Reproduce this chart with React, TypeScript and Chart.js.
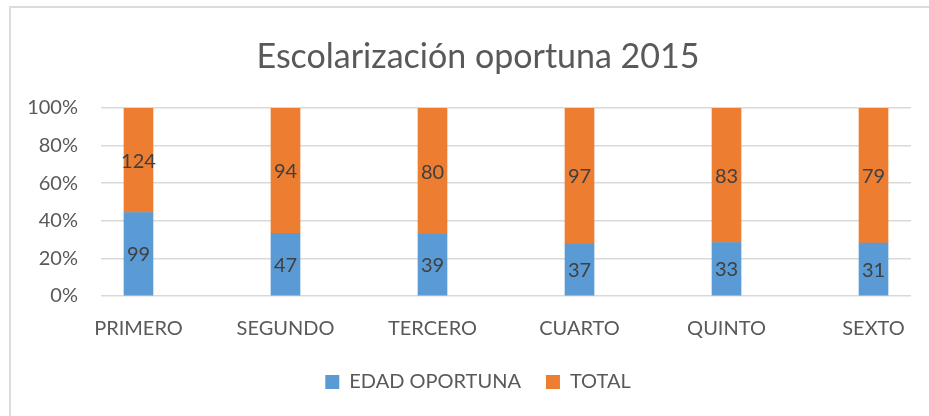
import React, { useEffect, useRef } from "react";
import { Chart, registerables } from "chart.js";

Chart.register(...registerables);

const CATEGORIES = ["PRIMERO", "SEGUNDO", "TERCERO", "CUARTO", "QUINTO", "SEXTO"];
const EDAD_OPORTUNA = [99, 47, 39, 37, 33, 31];
const TOTAL = [124, 94, 80, 97, 83, 79];
const Y_TICKS = [0, 20, 40, 60, 80, 100];
const TITLE = "Escolarización oportuna 2015";
const SERIES_NAMES = ["EDAD OPORTUNA", "TOTAL"];

const FONT = "Lato, 'Open Sans', sans-serif";
const TEXT = "#595959";
const PAD_LEFT = 45;
const PLOT_LEFT = 101;

export default function App() {
  const ref = useRef<HTMLCanvasElement>(null);

  useEffect(() => {
    if (!ref.current) return;
    const sums = CATEGORIES.map((_, i) => EDAD_OPORTUNA[i] + TOTAL[i]);
    const pct = (arr: number[]) => arr.map((v, i) => ({ x: i, y: (v / sums[i]) * 100 }));

    const segLabels = {
      id: "segLabels",
      afterDatasetsDraw(chart: any) {
        const ctx = chart.ctx;
        ctx.save();
        ctx.font = `20px ${FONT}`;
        ctx.fillStyle = "#404040";
        ctx.textAlign = "center";
        ctx.textBaseline = "middle";
        chart.data.datasets.forEach((ds: any, di: number) => {
          const meta = chart.getDatasetMeta(di);
          meta.data.forEach((bar: any, i: number) => {
            const p = bar.getProps(["x", "y", "base"], true);
            ctx.fillText(String(ds.rawValues[i]), p.x, (p.y + p.base) / 2 + 1);
          });
        });
        ctx.restore();
      },
    };

    const chart = new Chart(ref.current, {
      type: "bar",
      data: {
        datasets: [
          {
            label: SERIES_NAMES[0],
            data: pct(EDAD_OPORTUNA),
            rawValues: EDAD_OPORTUNA,
            backgroundColor: "#5B9BD5",
            borderWidth: 0,
            barThickness: 29,
          } as any,
          {
            label: SERIES_NAMES[1],
            data: pct(TOTAL),
            rawValues: TOTAL,
            backgroundColor: "#ED7D31",
            borderWidth: 0,
            barThickness: 29,
          } as any,
        ],
      },
      options: {
        responsive: false,
        animation: false,
        layout: { padding: { left: PAD_LEFT, right: 18, top: 0, bottom: 14 } },
        plugins: {
          title: {
            display: true,
            text: TITLE,
            color: TEXT,
            font: { family: FONT, size: 34, weight: "normal" },
            padding: { top: 36.5, bottom: 30.7 },
          },
          legend: {
            position: "bottom",
            labels: {
              boxWidth: 14,
              boxHeight: 14,
              padding: 25,
              color: TEXT,
              font: { family: FONT, size: 20 },
            },
          },
          tooltip: { enabled: false },
        },
        scales: {
          x: {
            type: "linear",
            min: -0.255,
            max: 5.255,
            offset: false,
            stacked: true,
            grid: { display: false, drawTicks: false, offset: false },
            border: { display: false },
            afterBuildTicks: (axis: any) => {
              axis.ticks = CATEGORIES.map((_, i) => ({ value: i }));
            },
            afterFit: (axis: any) => {
              axis.height = 51;
            },
            ticks: {
              autoSkip: false,
              maxRotation: 0,
              padding: 21,
              color: TEXT,
              font: { family: FONT, size: 20 },
              callback: (v: any) => CATEGORIES[v] ?? "",
            },
          },
          y: {
            min: 0,
            max: 100,
            stacked: true,
            grid: { color: "#d9d9d9", lineWidth: 1.5, drawTicks: false },
            border: { display: false },
            afterBuildTicks: (axis: any) => {
              axis.ticks = Y_TICKS.map((v) => ({ value: v }));
            },
            afterFit: (axis: any) => {
              axis.width = PLOT_LEFT - PAD_LEFT;
              // let the tick labels extend left of the axis box without clipping
              axis._computeLabelArea = () => undefined;
            },
            ticks: {
              padding: 23,
              color: TEXT,
              font: { family: FONT, size: 20 },
              callback: (v: any) => `${v}%`,
            },
          },
        },
      },
      plugins: [segLabels],
    });
    return () => chart.destroy();
  }, []);

  return (
    <div style={{ position: "fixed", left: 0, top: 0, width: 929, height: 416, overflow: "hidden", background: "#fff" }}>
      <div
        style={{
          position: "absolute",
          left: 9,
          top: 6,
          width: 960,
          height: 460,
          border: "2px solid #dcdcdc",
        }}
      />
      <canvas ref={ref} width={929} height={416} style={{ position: "absolute", left: 0, top: 0 }} />
    </div>
  );
}
